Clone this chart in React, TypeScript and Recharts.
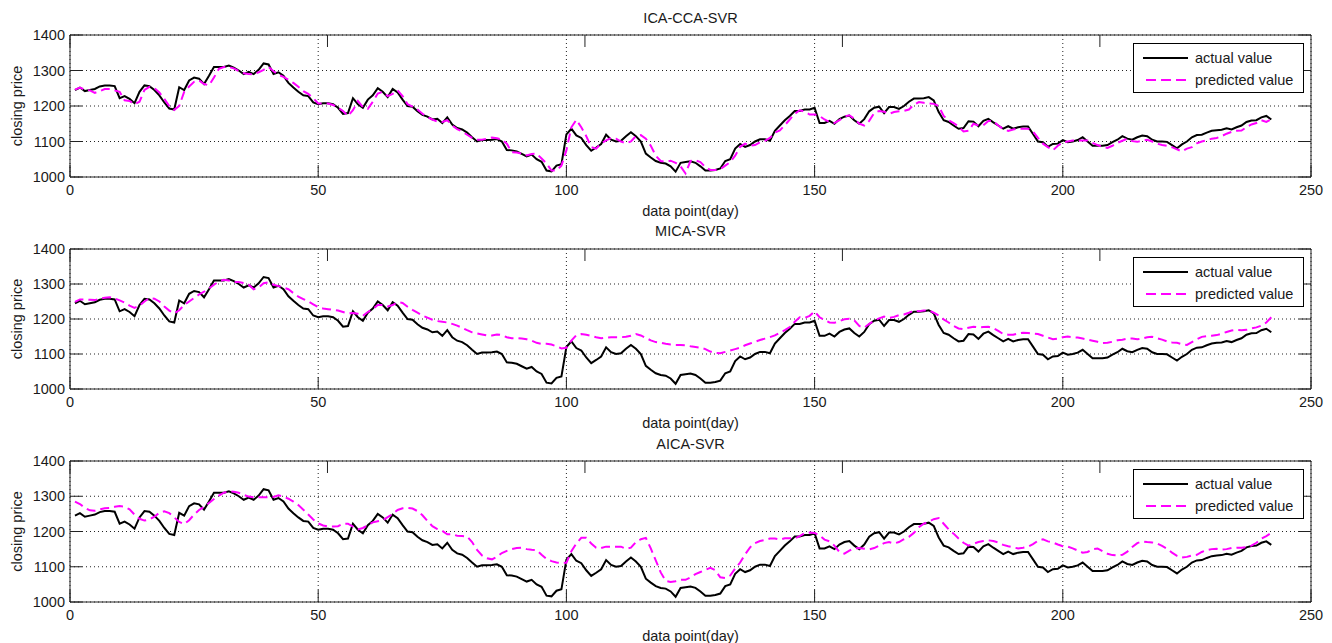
import React from 'react';
import { LineChart, Line, XAxis, YAxis, CartesianGrid, Legend } from 'recharts';

const actualValue = [
  1245, 1252, 1242, 1245, 1248, 1255, 1258, 1258, 1256, 1222,
  1228, 1220, 1208, 1240, 1258, 1256, 1245, 1230, 1210, 1193,
  1190, 1253, 1245, 1272, 1280, 1277, 1262, 1285, 1310, 1310,
  1310, 1314, 1308, 1300, 1290, 1296, 1290, 1302, 1320, 1317,
  1290, 1295, 1285, 1265, 1252, 1240, 1230, 1228, 1210, 1205,
  1208, 1208, 1205, 1195, 1178, 1180, 1222, 1205, 1195, 1218,
  1230, 1250, 1240, 1225, 1248, 1238, 1218, 1200, 1198, 1185,
  1175, 1170, 1162, 1164, 1152, 1168, 1148, 1138, 1134, 1125,
  1112, 1100, 1104, 1104, 1105, 1107, 1100, 1076, 1075, 1072,
  1065, 1058, 1063, 1050, 1043, 1018, 1016, 1032, 1036, 1120,
  1136, 1117, 1110, 1090, 1074, 1083, 1093, 1119, 1105, 1100,
  1102, 1115, 1126, 1115, 1100, 1066, 1055, 1045, 1040, 1038,
  1030, 1015, 1040, 1042, 1044, 1040, 1030, 1018, 1018, 1020,
  1024, 1045, 1050, 1080, 1093, 1085, 1090, 1100, 1106, 1106,
  1102, 1130, 1145, 1160, 1172, 1186, 1186, 1190, 1190, 1195,
  1152, 1152, 1158, 1150, 1163, 1170, 1173, 1160, 1150, 1163,
  1185, 1195, 1198, 1180, 1197, 1197, 1192, 1200, 1212, 1221,
  1221, 1222, 1225, 1216, 1183, 1160, 1155, 1145, 1136, 1138,
  1157, 1156, 1143, 1158, 1164, 1154, 1145, 1136, 1143, 1136,
  1140, 1142, 1142, 1121, 1100, 1098, 1085, 1093, 1094, 1104,
  1098, 1100, 1104, 1112, 1100, 1088, 1088, 1088, 1090, 1098,
  1105, 1115, 1108, 1105, 1112, 1117, 1115, 1105, 1100, 1100,
  1099, 1090, 1081, 1092, 1100, 1112, 1118, 1119, 1125, 1130,
  1132, 1133, 1137, 1134, 1140, 1145, 1155, 1159, 1160, 1168,
  1172, 1162,
];

const icaCcaSvrPredicted = [
  1246, 1252, 1246, 1244, 1237, 1242, 1248, 1248, 1244, 1240,
  1216, 1214, 1205, 1212, 1245, 1254, 1250, 1238, 1220, 1200,
  1189, 1200, 1240, 1255, 1268, 1272, 1262, 1258, 1280, 1305,
  1310, 1310, 1306, 1298, 1292, 1290, 1289, 1295, 1302, 1310,
  1298, 1288, 1282, 1274, 1265, 1254, 1242, 1234, 1222, 1207,
  1207, 1207, 1203, 1195, 1186, 1172, 1188, 1214, 1197, 1192,
  1212, 1235, 1240, 1228, 1234, 1244, 1228, 1205, 1198, 1190,
  1178, 1169, 1162, 1156, 1155, 1160, 1145, 1135, 1128, 1119,
  1110, 1105, 1105, 1108, 1111, 1109, 1106, 1094, 1070, 1069,
  1066, 1061, 1065, 1066, 1052, 1038, 1018, 1018, 1032, 1075,
  1140, 1161, 1140, 1115, 1084, 1080, 1095, 1103, 1110, 1108,
  1100, 1095, 1100, 1115, 1118, 1108, 1088, 1060, 1045, 1043,
  1046, 1040, 1030, 1010, 1045, 1047, 1042, 1028, 1020, 1020,
  1022, 1032, 1042, 1060, 1085, 1094, 1088, 1090, 1098, 1102,
  1110, 1125, 1131, 1146, 1162, 1178, 1188, 1184, 1176, 1176,
  1172, 1162, 1155, 1152, 1160, 1170, 1174, 1164, 1150, 1145,
  1158, 1180, 1186, 1184, 1178, 1183, 1185, 1186, 1190, 1203,
  1211, 1209, 1207, 1206, 1200, 1172, 1160, 1152, 1142, 1128,
  1130, 1150, 1145, 1146, 1158, 1157, 1145, 1135, 1130, 1134,
  1136, 1136, 1136, 1128, 1110, 1094, 1084, 1075, 1088, 1097,
  1100, 1103, 1103, 1103, 1103, 1096, 1090, 1085, 1082, 1088,
  1096, 1102, 1108, 1101, 1099, 1102, 1105, 1100, 1094, 1090,
  1088, 1084, 1078, 1072, 1080, 1084, 1095, 1100, 1103, 1108,
  1110, 1115, 1122, 1127, 1130, 1131, 1140, 1148, 1152, 1160,
  1155, 1163,
];

const micaSvrPredicted = [
  1249, 1256, 1256, 1255, 1254, 1258, 1261, 1262, 1259, 1253,
  1247, 1238, 1232, 1238, 1250, 1260, 1258, 1250, 1236, 1224,
  1216, 1225, 1240, 1250, 1260, 1270, 1278, 1287, 1298, 1307,
  1312, 1310, 1306, 1306, 1303, 1298, 1285, 1290, 1302, 1305,
  1298, 1294, 1290, 1285, 1274, 1264, 1257, 1250, 1242, 1234,
  1230, 1228, 1226, 1224, 1220, 1216, 1217, 1215, 1209, 1220,
  1228, 1240, 1240, 1236, 1240, 1248, 1246, 1235, 1226, 1218,
  1210, 1204, 1198, 1194, 1192, 1190, 1186, 1181, 1175, 1168,
  1162, 1159, 1156, 1153, 1153, 1156, 1154, 1148, 1145, 1145,
  1144, 1142, 1138, 1132, 1129, 1129, 1127, 1122, 1116, 1118,
  1138, 1154, 1157, 1155, 1152, 1148, 1145, 1147, 1148, 1148,
  1148, 1149, 1152, 1157, 1153, 1146, 1139, 1134, 1132, 1129,
  1127, 1126, 1126, 1125, 1122, 1120, 1118, 1114, 1107, 1103,
  1102, 1106, 1110, 1114, 1118, 1125, 1130, 1135, 1140, 1144,
  1148, 1153, 1161, 1168, 1177, 1192, 1205, 1203, 1209, 1222,
  1205, 1197, 1190, 1189, 1194, 1199, 1201, 1196, 1180, 1175,
  1186, 1195, 1202, 1207, 1203, 1206, 1211, 1213, 1218, 1224,
  1222, 1224, 1225, 1218, 1210, 1199, 1190, 1180, 1173, 1171,
  1175, 1178, 1176, 1177, 1178, 1174, 1166, 1157, 1155, 1155,
  1159, 1161, 1160, 1158, 1157, 1152, 1147, 1142, 1144, 1148,
  1150, 1148, 1147, 1144, 1141, 1138, 1135, 1131, 1132, 1135,
  1139, 1141, 1144, 1144, 1142, 1144, 1148, 1149, 1145, 1141,
  1136, 1133, 1132, 1128, 1126, 1134, 1142, 1149, 1151, 1152,
  1154, 1158, 1163, 1167, 1169, 1168, 1169, 1173, 1176, 1181,
  1190, 1205,
];

const aicaSvrPredicted = [
  1285, 1278, 1267, 1260, 1259, 1263, 1266, 1267, 1270, 1272,
  1270, 1263, 1248, 1236, 1231, 1234, 1242, 1253, 1257, 1252,
  1240, 1227, 1221, 1232, 1248, 1261, 1270, 1281, 1292, 1302,
  1310, 1314, 1313, 1310, 1304, 1299, 1297, 1297, 1297, 1297,
  1298, 1303, 1299, 1293, 1285, 1275, 1262, 1248, 1234, 1223,
  1217, 1214, 1214, 1215, 1222, 1222, 1214, 1206, 1210, 1218,
  1226, 1229, 1232, 1241, 1250, 1261, 1266, 1267, 1265, 1258,
  1246, 1230, 1215, 1207, 1202, 1192, 1192, 1188, 1187, 1186,
  1170, 1148, 1132, 1124, 1121, 1128, 1139, 1145, 1150, 1153,
  1154, 1150, 1148, 1147, 1134, 1122, 1116, 1112, 1111, 1111,
  1144, 1166, 1182, 1182, 1166, 1154, 1153, 1157, 1157, 1157,
  1157, 1151, 1154, 1170, 1178, 1182, 1152, 1118, 1084, 1060,
  1057, 1059, 1063, 1063, 1070, 1079, 1085, 1091, 1097, 1090,
  1070, 1068, 1075, 1095, 1112, 1135, 1155, 1167, 1173, 1176,
  1180, 1180, 1177, 1181, 1181, 1180, 1187, 1195, 1197, 1196,
  1189, 1177, 1172, 1160, 1142, 1137, 1146, 1152, 1153, 1151,
  1149, 1153, 1160, 1167, 1170, 1166, 1170, 1178, 1185, 1196,
  1212, 1222, 1228, 1235, 1238, 1222, 1206, 1194, 1180, 1168,
  1160, 1165, 1170, 1173, 1175, 1173, 1169, 1162, 1158, 1155,
  1152, 1154, 1157, 1164, 1174, 1178, 1172, 1169, 1163, 1158,
  1157, 1152, 1146, 1140, 1142, 1150, 1152, 1144, 1137, 1133,
  1132, 1134, 1143, 1156, 1167, 1172, 1170, 1169, 1166, 1159,
  1151, 1140, 1131, 1126, 1128, 1132, 1134, 1142, 1147, 1150,
  1151, 1149, 1150, 1153, 1154, 1154, 1156, 1160, 1168, 1180,
  1187, 1196,
];

const panelTitles = ['ICA-CCA-SVR', 'MICA-SVR', 'AICA-SVR'];
const seriesNames = ['actual value', 'predicted value'];
const xTicks = [0, 50, 100, 150, 200, 250];
const yTicks = [1000, 1100, 1200, 1300, 1400];
const xLabel = 'data point(day)';
const yLabel = 'closing price';

const FONT = '"Liberation Sans", Arial, Helvetica, sans-serif';
const FS = 14.5;
const TXT = '#1a1a1a';
const AX = '#222';
const ACTUAL_COLOR = '#000000';
const PRED_COLOR = '#ff00ff';
const DASH = '9 5';
const W = 1332;
const PLOT_LEFT = 70;
const PLOT_RIGHT = 1311;
const TOP_PAD = 35;
const BOTTOM_PAD = 53;
const TICK_LEN = 12;

const panelLayout = [
  { plotTop: 35, plotHeight: 142, titleTop: 10 },
  { plotTop: 249, plotHeight: 140, titleTop: 223 },
  { plotTop: 461, plotHeight: 141, titleTop: 436 },
];
const predictedSets = [icaCcaSvrPredicted, micaSvrPredicted, aicaSvrPredicted];

const NoLabel = () => <g />;

function LegendBox() {
  return (
    <svg width={171} height={50} style={{ display: 'block' }}>
      <rect x={0.5} y={0.5} width={170} height={49} fill="#fff" stroke="#000" strokeWidth={1} />
      <line x1={10} x2={55} y1={15} y2={15} stroke={ACTUAL_COLOR} strokeWidth={2} />
      <text x={62} y={15} dy="0.35em" fontFamily={FONT} fontSize={FS} fill={TXT}>{seriesNames[0]}</text>
      <line x1={13} x2={55} y1={37} y2={37} stroke={PRED_COLOR} strokeWidth={2} strokeDasharray="10 5" />
      <text x={62} y={37} dy="0.35em" fontFamily={FONT} fontSize={FS} fill={TXT}>{seriesNames[1]}</text>
    </svg>
  );
}

function Panel({ index }: { index: number }) {
  const { plotTop, plotHeight, titleTop } = panelLayout[index];
  const predicted = predictedSets[index];
  const data = actualValue.map((v, i) => ({ day: i + 1, actual: v, predicted: predicted[i] }));
  const chartTop = plotTop - TOP_PAD;
  const chartHeight = TOP_PAD + plotHeight + BOTTOM_PAD;
  const tickStyle = { fill: TXT, fontSize: FS, fontFamily: FONT };
  return (
    <>
      <div
        style={{
          position: 'absolute',
          left: PLOT_LEFT,
          width: PLOT_RIGHT - PLOT_LEFT,
          top: titleTop,
          textAlign: 'center',
          fontFamily: FONT,
          fontSize: FS,
          lineHeight: '16px',
          color: TXT,
        }}
      >
        {panelTitles[index]}
      </div>
      <div style={{ position: 'absolute', left: 0, top: chartTop }}>
        <LineChart
          width={W}
          height={chartHeight}
          data={data}
          margin={{ top: TOP_PAD - 1, right: W - PLOT_RIGHT - 1, bottom: 0, left: 10 }}
        >
          <CartesianGrid stroke={AX} strokeDasharray="1 3" strokeWidth={1} />
          <XAxis
            dataKey="day"
            type="number"
            domain={[0, 250]}
            ticks={xTicks}
            interval={0}
            height={BOTTOM_PAD}
            tickSize={-TICK_LEN}
            tickMargin={TICK_LEN + 8}
            stroke={AX}
            tick={tickStyle}
            allowDataOverflow
            label={{ value: xLabel, position: 'insideTop', offset: 29, fill: TXT, fontSize: FS, fontFamily: FONT }}
          />
          <XAxis
            xAxisId="top"
            orientation="top"
            type="number"
            domain={[0, 250]}
            ticks={xTicks}
            interval={0}
            height={1}
            tick={NoLabel}
            tickSize={-TICK_LEN}
            stroke={AX}
            allowDataOverflow
          />
          <YAxis
            type="number"
            domain={[1000, 1400]}
            ticks={yTicks}
            interval={0}
            width={60}
            tickSize={-TICK_LEN}
            tickMargin={TICK_LEN + 5}
            stroke={AX}
            tick={tickStyle}
            allowDataOverflow
            label={{
              value: yLabel,
              angle: -90,
              position: 'insideLeft',
              offset: 7,
              fill: TXT,
              fontSize: FS,
              fontFamily: FONT,
              style: { textAnchor: 'middle' },
            }}
          />
          <YAxis
            yAxisId="right"
            orientation="right"
            type="number"
            domain={[1000, 1400]}
            ticks={yTicks}
            interval={0}
            width={1}
            tick={NoLabel}
            tickSize={-TICK_LEN}
            stroke={AX}
            allowDataOverflow
          />
          <Line
            type="linear"
            dataKey="actual"
            name={seriesNames[0]}
            stroke={ACTUAL_COLOR}
            strokeWidth={2}
            dot={false}
            activeDot={false}
            isAnimationActive={false}
          />
          <Line
            type="linear"
            dataKey="predicted"
            name={seriesNames[1]}
            stroke={PRED_COLOR}
            strokeWidth={2}
            strokeDasharray={DASH}
            dot={false}
            activeDot={false}
            isAnimationActive={false}
          />
          <Legend
            layout="horizontal"
            verticalAlign="middle"
            align="center"
            wrapperStyle={{ position: 'absolute', left: 1133, top: TOP_PAD + 8, width: 171, height: 50, right: 'auto', bottom: 'auto' }}
            content={() => <LegendBox />}
          />
        </LineChart>
      </div>
    </>
  );
}

export default function App() {
  return (
    <div
      style={{
        position: 'absolute',
        left: 0,
        top: 0,
        width: W,
        height: 643,
        background: '#fff',
        overflow: 'hidden',
      }}
    >
      {panelLayout.map((_, i) => (
        <Panel key={i} index={i} />
      ))}
    </div>
  );
}
